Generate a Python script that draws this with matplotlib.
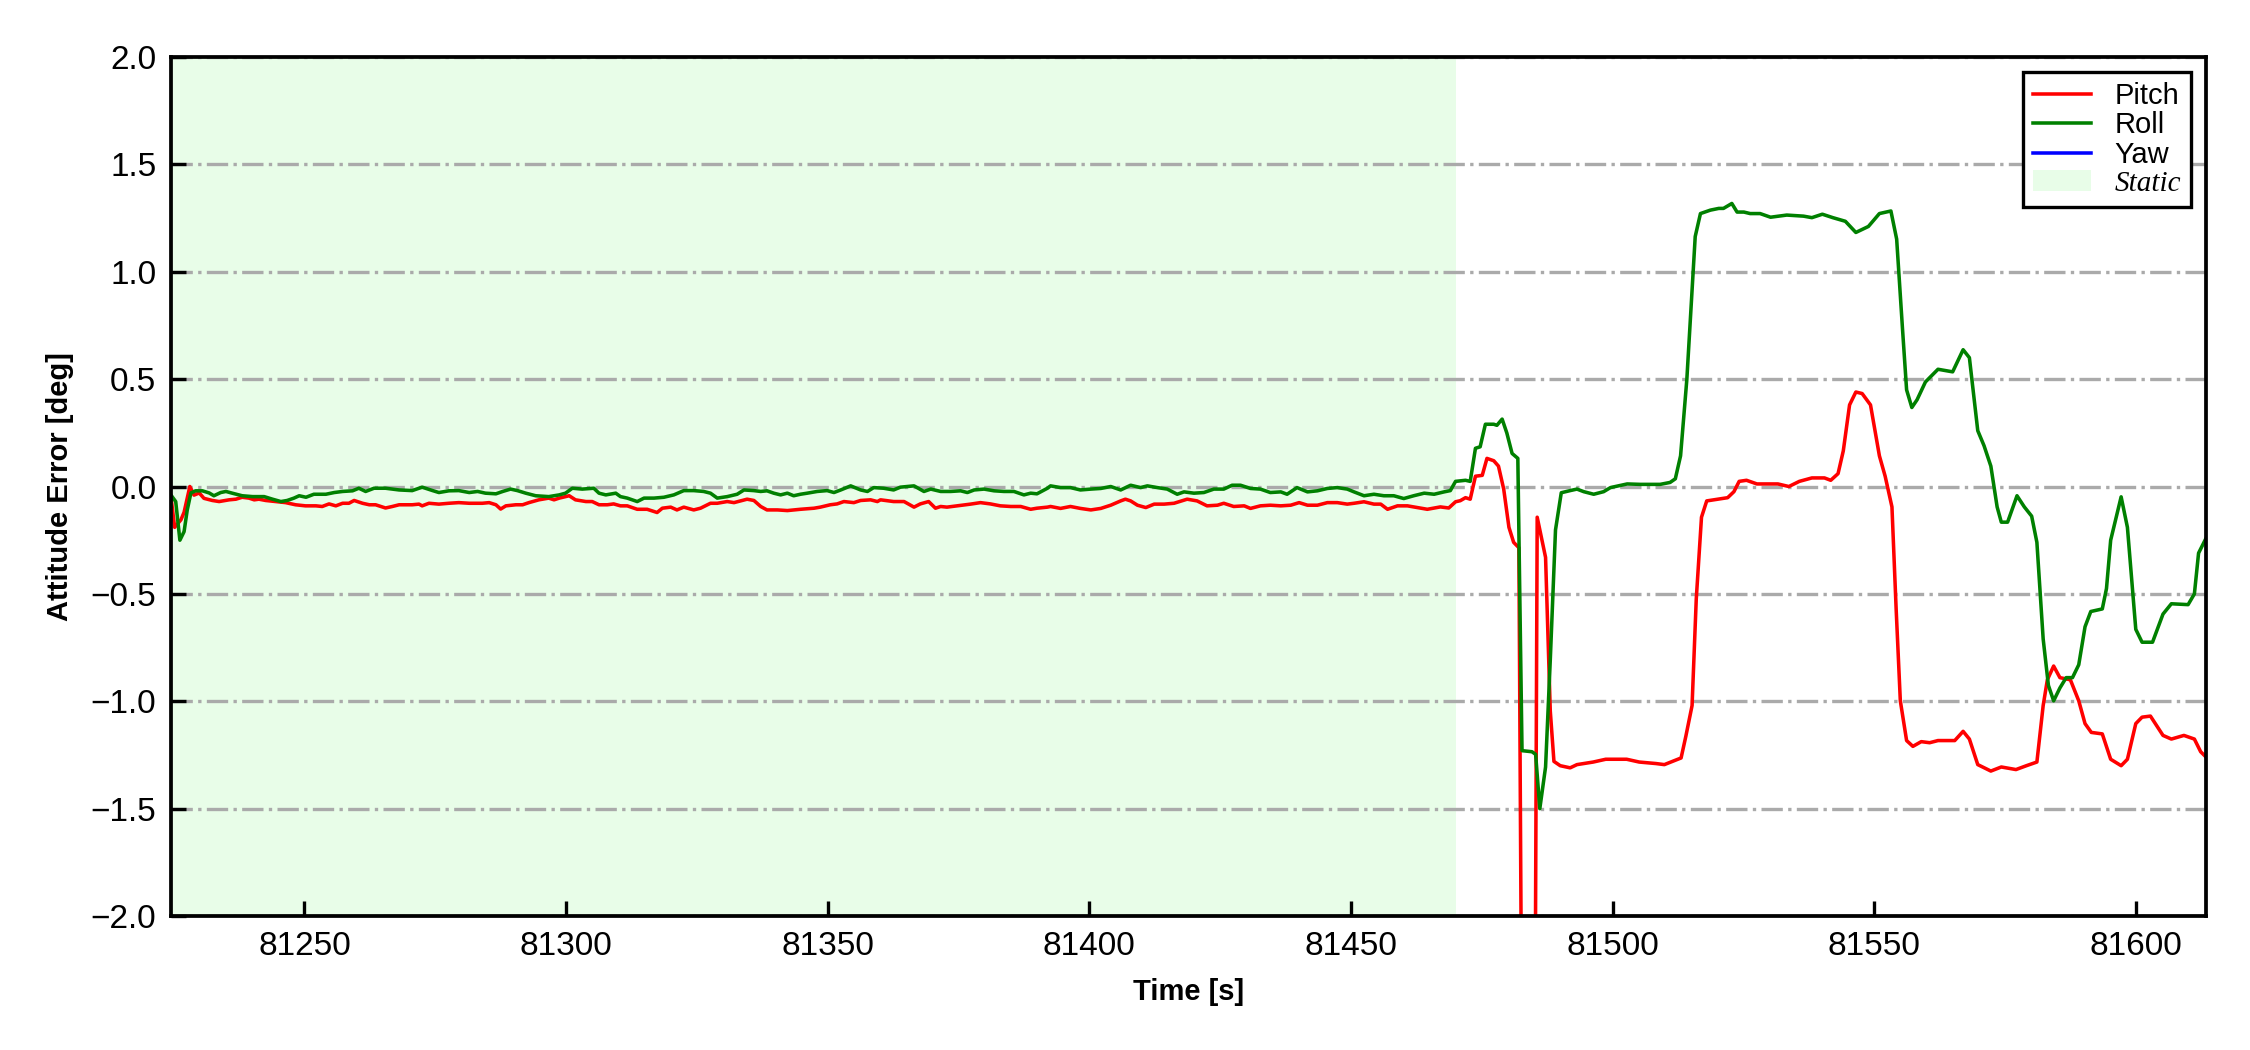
import numpy as np
import matplotlib
matplotlib.use('Agg')
import matplotlib.pyplot as plt
from matplotlib.patches import Patch
from matplotlib.lines import Line2D

# 字体设置（Arial 的替代）
plt.rcParams['font.family'] = ['Liberation Sans', 'DejaVu Sans']
plt.rcParams['axes.unicode_minus'] = True

# ------------------- 数据 -------------------
# 俯仰角误差 Pitch
t_pitch = [
    81224.5, 81225.2, 81226.4, 81227.0, 81228.1, 81228.9, 81229.9, 81230.8, 81232.4, 81233.7,
    81235.6, 81236.9, 81238.1, 81239.4, 81240.4, 81241.3, 81242.6, 81244.5, 81246.4, 81248.3,
    81250.2, 81252.2, 81253.4, 81254.7, 81256.0, 81257.3, 81258.5, 81259.5, 81261.1, 81262.4,
    81263.6, 81265.5, 81266.8, 81268.1, 81270.6, 81271.9, 81272.5, 81273.8, 81275.7, 81277.6,
    81279.5, 81281.5, 81284.0, 81285.3, 81286.6, 81287.5, 81288.5, 81290.4, 81291.7, 81292.9,
    81294.8, 81296.7, 81297.7, 81298.7, 81300.6, 81301.8, 81303.8, 81305.0, 81306.3, 81307.9,
    81309.1, 81310.4, 81311.7, 81313.6, 81315.5, 81317.4, 81318.4, 81320.0, 81321.2, 81322.5,
    81324.4, 81325.7, 81327.6, 81328.9, 81330.8, 81332.1, 81334.6, 81335.9, 81337.2, 81338.4,
    81340.4, 81342.3, 81344.8, 81347.4, 81348.6, 81350.5, 81351.8, 81353.1, 81355.0, 81356.3,
    81358.2, 81359.5, 81360.1, 81362.6, 81364.6, 81366.5, 81367.7, 81369.3, 81370.6, 81371.6,
    81372.8, 81374.8, 81377.3, 81379.2, 81381.1, 81383.0, 81385.0, 81386.9, 81388.8, 81390.0,
    81392.0, 81392.6, 81394.5, 81396.4, 81398.3, 81400.3, 81402.2, 81404.1, 81406.0, 81406.9,
    81407.9, 81409.2, 81410.8, 81412.4, 81414.3, 81416.2, 81418.7, 81420.6, 81422.5, 81424.5,
    81425.7, 81427.6, 81429.6, 81430.8, 81432.7, 81434.6, 81436.6, 81438.5, 81440.1, 81441.7,
    81443.6, 81445.5, 81447.4, 81449.3, 81450.6, 81452.5, 81454.4, 81455.7, 81457.0, 81458.9,
    81460.8, 81462.7, 81464.6, 81466.5, 81467.1, 81468.7, 81470.0, 81470.9, 81471.9, 81472.8,
    81473.8, 81475.1, 81476.0, 81477.3, 81478.2, 81479.2, 81480.2, 81481.1, 81482.1, 81483.1,
    81484.6, 81485.6, 81487.2, 81488.1, 81488.8, 81490.0, 81491.9, 81493.2, 81496.3, 81498.7,
    81502.7, 81505.1, 81508.3, 81509.9, 81513.1, 81514.0, 81515.2, 81516.0, 81517.0, 81518.0,
    81522.0, 81523.2, 81524.2, 81525.6, 81527.6, 81531.6, 81533.7, 81535.7, 81538.1, 81540.5,
    81541.7, 81543.1, 81544.1, 81545.3, 81546.5, 81547.7, 81549.3, 81551.0, 81552.1, 81553.4,
    81554.2, 81555.0, 81556.2, 81557.4, 81559.0, 81560.6, 81562.2, 81565.4, 81567.0, 81568.2,
    81569.8, 81572.3, 81574.3, 81577.1, 81579.1, 81581.1, 81582.3, 81583.1, 81584.3, 81585.5,
    81587.5, 81589.1, 81590.3, 81591.5, 81593.6, 81595.2, 81597.2, 81598.4, 81600.0, 81601.2,
    81602.8, 81605.2, 81606.8, 81609.2, 81611.2, 81612.4, 81613.4,
]
pitch = [
    -0.05, -0.19, -0.155, -0.12, 0.0, -0.04, -0.03, -0.055, -0.065, -0.07,
    -0.062, -0.059, -0.05, -0.054, -0.062, -0.059, -0.065, -0.07, -0.075, -0.085,
    -0.09, -0.09, -0.093, -0.081, -0.09, -0.078, -0.078, -0.065, -0.078, -0.085,
    -0.085, -0.10, -0.093, -0.085, -0.085, -0.082, -0.09, -0.078, -0.082, -0.078,
    -0.075, -0.078, -0.078, -0.075, -0.085, -0.105, -0.09, -0.085, -0.085, -0.075,
    -0.062, -0.054, -0.062, -0.054, -0.043, -0.062, -0.07, -0.07, -0.085, -0.085,
    -0.081, -0.09, -0.09, -0.106, -0.106, -0.121, -0.101, -0.096, -0.109, -0.096,
    -0.109, -0.101, -0.078, -0.078, -0.07, -0.075, -0.059, -0.065, -0.093, -0.109,
    -0.109, -0.112, -0.106, -0.101, -0.096, -0.085, -0.081, -0.07, -0.075, -0.065,
    -0.062, -0.07, -0.062, -0.07, -0.07, -0.096, -0.081, -0.07, -0.101, -0.093,
    -0.096, -0.09, -0.082, -0.075, -0.081, -0.09, -0.093, -0.093, -0.106, -0.101,
    -0.096, -0.093, -0.102, -0.093, -0.102, -0.109, -0.102, -0.087, -0.067, -0.059,
    -0.067, -0.087, -0.098, -0.082, -0.082, -0.078, -0.059, -0.067, -0.09, -0.087,
    -0.078, -0.093, -0.09, -0.102, -0.09, -0.087, -0.09, -0.087, -0.075, -0.087,
    -0.087, -0.075, -0.075, -0.082, -0.078, -0.071, -0.082, -0.082, -0.106, -0.09,
    -0.09, -0.098, -0.106, -0.098, -0.095, -0.10, -0.071, -0.066, -0.052, -0.059,
    0.048, 0.052, 0.131, 0.12, 0.095, -0.012, -0.19, -0.26, -0.285, -4.5,
    -6.0, -0.143, -0.33, -1.045, -1.28, -1.30, -1.31, -1.295, -1.283, -1.27,
    -1.27, -1.283, -1.29, -1.295, -1.264, -1.164, -1.02, -0.524, -0.143, -0.067,
    -0.052, -0.024, 0.024, 0.029, 0.012, 0.012, 0.0, 0.024, 0.04, 0.04,
    0.029, 0.06, 0.166, 0.38, 0.44, 0.433, 0.38, 0.143, 0.048, -0.095,
    -0.57, -0.998, -1.183, -1.21, -1.188, -1.193, -1.183, -1.183, -1.14, -1.176,
    -1.295, -1.325, -1.306, -1.318, -1.30, -1.283, -1.02, -0.9, -0.836, -0.89,
    -0.9, -0.998, -1.104, -1.145, -1.152, -1.27, -1.30, -1.27, -1.104, -1.074,
    -1.069, -1.159, -1.176, -1.159, -1.176, -1.235, -1.259,
]

# 横滚角误差 Roll
t_roll = [
    81224.5, 81225.4, 81226.2, 81227.0, 81227.6, 81228.3, 81229.2, 81230.5, 81231.8, 81232.7,
    81234.0, 81235.0, 81236.2, 81238.1, 81240.1, 81242.3, 81243.9, 81245.5, 81246.7, 81248.0,
    81249.0, 81250.3, 81251.8, 81254.1, 81255.7, 81257.3, 81259.2, 81260.4, 81261.7, 81263.3,
    81265.5, 81268.1, 81270.6, 81272.5, 81274.5, 81275.7, 81277.6, 81279.5, 81281.5, 81283.1,
    81284.6, 81286.6, 81287.9, 81289.4, 81290.7, 81292.3, 81294.2, 81296.7, 81298.7, 81299.9,
    81301.2, 81303.1, 81305.3, 81306.3, 81307.6, 81309.5, 81310.4, 81311.7, 81313.6, 81314.9,
    81316.8, 81318.7, 81320.6, 81322.5, 81324.4, 81326.3, 81327.6, 81328.9, 81330.8, 81332.7,
    81334.0, 81335.9, 81337.2, 81338.4, 81339.7, 81341.0, 81342.3, 81343.5, 81344.8, 81346.1,
    81348.0, 81349.9, 81351.2, 81352.5, 81354.4, 81356.3, 81357.6, 81358.8, 81360.7, 81362.6,
    81363.9, 81366.5, 81368.4, 81369.7, 81371.6, 81373.5, 81375.4, 81376.7, 81378.0, 81379.9,
    81381.8, 81383.7, 81385.6, 81387.5, 81388.8, 81390.0, 81392.0, 81392.6, 81394.5, 81396.4,
    81398.3, 81400.3, 81402.2, 81404.1, 81406.0, 81407.9, 81409.8, 81411.1, 81413.0, 81414.9,
    81416.8, 81418.1, 81420.0, 81421.9, 81423.8, 81425.7, 81427.3, 81428.9, 81430.8, 81432.7,
    81434.6, 81436.6, 81437.8, 81439.7, 81441.7, 81443.6, 81445.5, 81447.4, 81449.3, 81450.6,
    81452.5, 81454.4, 81456.3, 81458.2, 81460.1, 81462.0, 81464.0, 81465.9, 81467.8, 81469.0,
    81470.0, 81471.9, 81472.8, 81473.8, 81474.7, 81475.7, 81477.3, 81477.9, 81478.9, 81479.8,
    81480.8, 81481.9, 81482.7, 81484.6, 81485.3, 81486.1, 81487.2, 81488.1, 81489.1, 81490.2,
    81491.9, 81493.2, 81494.5, 81496.4, 81498.3, 81499.6, 81501.5, 81502.8, 81505.3, 81509.1,
    81511.0, 81512.0, 81513.0, 81514.2, 81515.8, 81516.8, 81518.7, 81520.3, 81521.2, 81522.8,
    81523.8, 81525.1, 81526.3, 81528.2, 81530.2, 81533.3, 81536.5, 81538.1, 81540.1, 81542.1,
    81544.5, 81546.5, 81548.9, 81551.0, 81553.2, 81554.3, 81555.4, 81556.2, 81557.2, 81558.2,
    81559.8, 81562.2, 81565.0, 81567.0, 81568.2, 81569.8, 81571.0, 81572.3, 81573.5, 81574.3,
    81575.5, 81577.3, 81578.7, 81580.1, 81581.1, 81582.3, 81583.3, 81584.3, 81585.5, 81586.7,
    81587.9, 81589.1, 81590.3, 81591.4, 81593.6, 81594.4, 81595.2, 81597.2, 81598.4, 81600.0,
    81601.2, 81603.2, 81605.2, 81606.8, 81610.0, 81611.2, 81612.0, 81613.4,
]
roll = [
    -0.04, -0.07, -0.25, -0.21, -0.11, -0.03, -0.02, -0.02, -0.03, -0.043,
    -0.028, -0.023, -0.031, -0.043, -0.047, -0.047, -0.059, -0.07, -0.065, -0.054,
    -0.043, -0.05, -0.036, -0.036, -0.028, -0.023, -0.02, -0.008, -0.023, -0.008,
    -0.008, -0.016, -0.019, -0.003, -0.019, -0.028, -0.02, -0.019, -0.028, -0.023,
    -0.031, -0.034, -0.023, -0.012, -0.019, -0.031, -0.043, -0.047, -0.039, -0.031,
    -0.008, -0.012, -0.008, -0.031, -0.039, -0.031, -0.047, -0.054, -0.07, -0.054,
    -0.054, -0.05, -0.039, -0.019, -0.019, -0.023, -0.031, -0.054, -0.047, -0.036,
    -0.016, -0.019, -0.023, -0.02, -0.031, -0.039, -0.031, -0.043, -0.036, -0.031,
    -0.023, -0.019, -0.028, -0.016, 0.003, -0.016, -0.023, -0.005, -0.008, -0.016,
    -0.003, 0.003, -0.023, -0.012, -0.023, -0.023, -0.02, -0.028, -0.016, -0.012,
    -0.02, -0.023, -0.023, -0.039, -0.031, -0.034, -0.008, 0.003, -0.005, -0.005,
    -0.016, -0.012, -0.009, 0.0, -0.016, 0.006, -0.005, 0.003, -0.005, -0.012,
    -0.036, -0.025, -0.031, -0.028, -0.012, -0.012, 0.006, 0.006, -0.009, -0.012,
    -0.028, -0.025, -0.036, -0.005, -0.025, -0.02, -0.009, -0.005, -0.012, -0.025,
    -0.043, -0.036, -0.043, -0.043, -0.056, -0.043, -0.031, -0.036, -0.025, -0.019,
    0.024, 0.029, 0.024, 0.178, 0.185, 0.29, 0.29, 0.285, 0.314, 0.249,
    0.154, 0.131, -1.23, -1.235, -1.247, -1.50, -1.306, -0.808, -0.202, -0.029,
    -0.019, -0.012, -0.024, -0.036, -0.024, -0.005, 0.005, 0.012, 0.01, 0.01,
    0.019, 0.036, 0.143, 0.499, 1.164, 1.271, 1.287, 1.295, 1.295, 1.318,
    1.278, 1.278, 1.271, 1.271, 1.254, 1.264, 1.259, 1.252, 1.268, 1.252,
    1.235, 1.183, 1.211, 1.271, 1.283, 1.152, 0.74, 0.45, 0.368, 0.404,
    0.487, 0.546, 0.534, 0.637, 0.6, 0.26, 0.19, 0.095, -0.095, -0.166,
    -0.166, -0.043, -0.095, -0.138, -0.26, -0.71, -0.926, -0.998, -0.938, -0.89,
    -0.89, -0.83, -0.653, -0.582, -0.57, -0.475, -0.25, -0.048, -0.19, -0.665,
    -0.725, -0.725, -0.594, -0.546, -0.55, -0.5, -0.31, -0.242,
]

# 偏航角误差 Yaw（超出显示范围，图中不可见）
t_yaw = []
yaw = []

# 静止时段
static_span = [81224.5, 81470.0]
y_ticks = [-2.0, -1.5, -1.0, -0.5, 0.0, 0.5, 1.0, 1.5, 2.0]
x_ticks = [81250, 81300, 81350, 81400, 81450, 81500, 81550, 81600]


def plot_attitude_error():
    fig = plt.figure(figsize=(7.5, 3.5), dpi=300)
    ax = fig.add_axes([0.076, 0.1276, 0.9044, 0.8181])

    # 静止段底色
    ax.axvspan(static_span[0], static_span[1], color='#e8fde8', lw=0, zorder=0)

    ax.plot(t_pitch, pitch, color='r', lw=0.85)
    ax.plot(t_roll, roll, color='g', lw=0.85)
    ax.plot(t_yaw, yaw, color='b', lw=0.85)

    ax.set_xlim(t_pitch[0], t_pitch[-1])
    ax.set_ylim(-2.0, 2.0)
    ax.set_xticks(x_ticks)
    ax.set_yticks(y_ticks)
    ax.yaxis.grid(True, linestyle='-.', color='#aaaaaa', lw=0.8)
    ax.set_axisbelow(True)

    ax.tick_params(direction='in', labelsize=8, length=3.5, width=0.8)
    for sp in ax.spines.values():
        sp.set_linewidth(0.9)

    ax.set_xlabel('Time [s]', fontsize=7, fontweight='bold')
    ax.set_ylabel('Attitude Error [deg]', fontsize=7, fontweight='bold')

    # 图例
    handles = [
        Line2D([], [], color='r', lw=0.85),
        Line2D([], [], color='g', lw=0.85),
        Line2D([], [], color='b', lw=0.85),
        Patch(facecolor='#e8fde8', edgecolor='none'),
    ]
    leg = ax.legend(handles, ['Pitch', 'Roll', 'Yaw', 'Static'], loc='upper right',
                    fontsize=7, fancybox=False, framealpha=1, edgecolor='k',
                    labelspacing=0.05, borderpad=0.35, handletextpad=0.8)
    leg.get_frame().set_linewidth(0.8)
    static_txt = leg.get_texts()[3]
    static_txt.set_fontfamily(['Liberation Serif', 'DejaVu Serif'])
    static_txt.set_fontstyle('italic')

    fig.savefig('out.png', dpi=300)


if __name__ == "__main__":
    plot_attitude_error()
